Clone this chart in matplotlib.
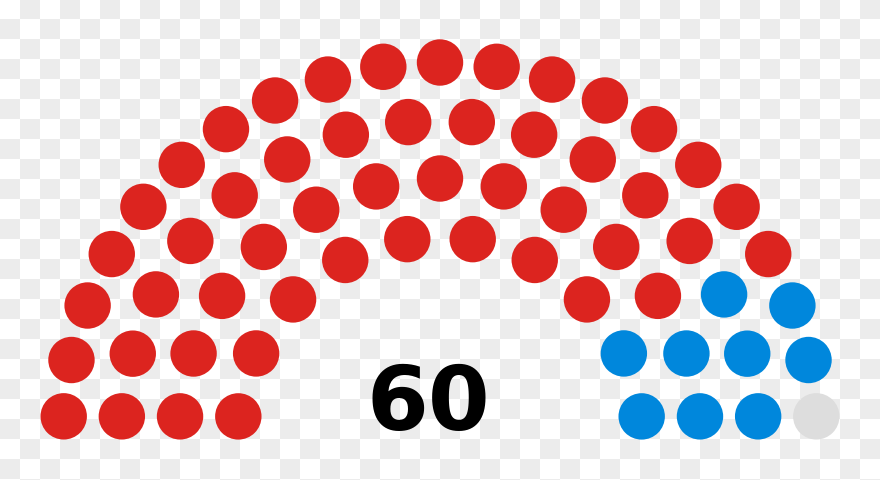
import math
import numpy as np
import matplotlib
matplotlib.use("Agg")
import matplotlib.pyplot as plt
from matplotlib.patches import Circle

# ---- data ----
total_label = "60"
row_seats = [10, 13, 16, 21]          # seats per row, inner -> outer
party_seats = [50, 9, 1]              # seats per group, left -> right
party_colors = ["#DC241F", "#0087DC", "#DDDDDD"]

# ---- layout (Wikipedia parliament diagram geometry) ----
n_rows = len(row_seats)
dot_r = 0.4 / n_rows
seats = []
for i, J in enumerate(row_seats, start=1):
    R = (3.0 * n_rows + 4.0 * i - 2.0) / (4.0 * n_rows)
    a0 = math.sin(dot_r / R)
    for j in range(J):
        ang = j * (math.pi - 2.0 * a0) / (J - 1) + a0
        seats.append((ang, R * math.cos(ang), R * math.sin(ang)))
seats.sort(key=lambda s: -s[0])

colors = []
for c, n in zip(party_colors, party_seats):
    colors += [c] * n

scale = 232.0  # pixels per unit
W, H = 880, 481
cx, cy = 440.0, 440.5

fig = plt.figure(figsize=(W / 100, H / 100), dpi=100)
ax = fig.add_axes([0, 0, 1, 1])
ax.set_axis_off()
xl, xr = -cx / scale, (W - cx) / scale
yt, yb = cy / scale, (cy - H) / scale
ax.set_xlim(xl, xr)
ax.set_ylim(yb, yt)

# checkerboard background (20 px squares)
nc, nr = W // 20, 25
yy, xx = np.mgrid[0:nr, 0:nc]
board = np.where((xx + yy) % 2 == 1, 0.925, 1.0)
ax.imshow(board, cmap="gray", vmin=0, vmax=1, interpolation="nearest",
          extent=(xl, xr, (cy - nr * 20) / scale, yt), origin="upper",
          aspect="auto", zorder=0)

for (ang, x, y), col in zip(seats, colors):
    ax.add_patch(Circle((x, y), dot_r, facecolor=col, edgecolor="none",
                        zorder=2))

ax.text((428.5 - cx) / scale, (cy - 430.5) / scale, total_label,
        ha="center", va="baseline", fontsize=64, fontweight="bold",
        family="DejaVu Sans", color="black", zorder=3)

fig.savefig("out.png", dpi=100)
